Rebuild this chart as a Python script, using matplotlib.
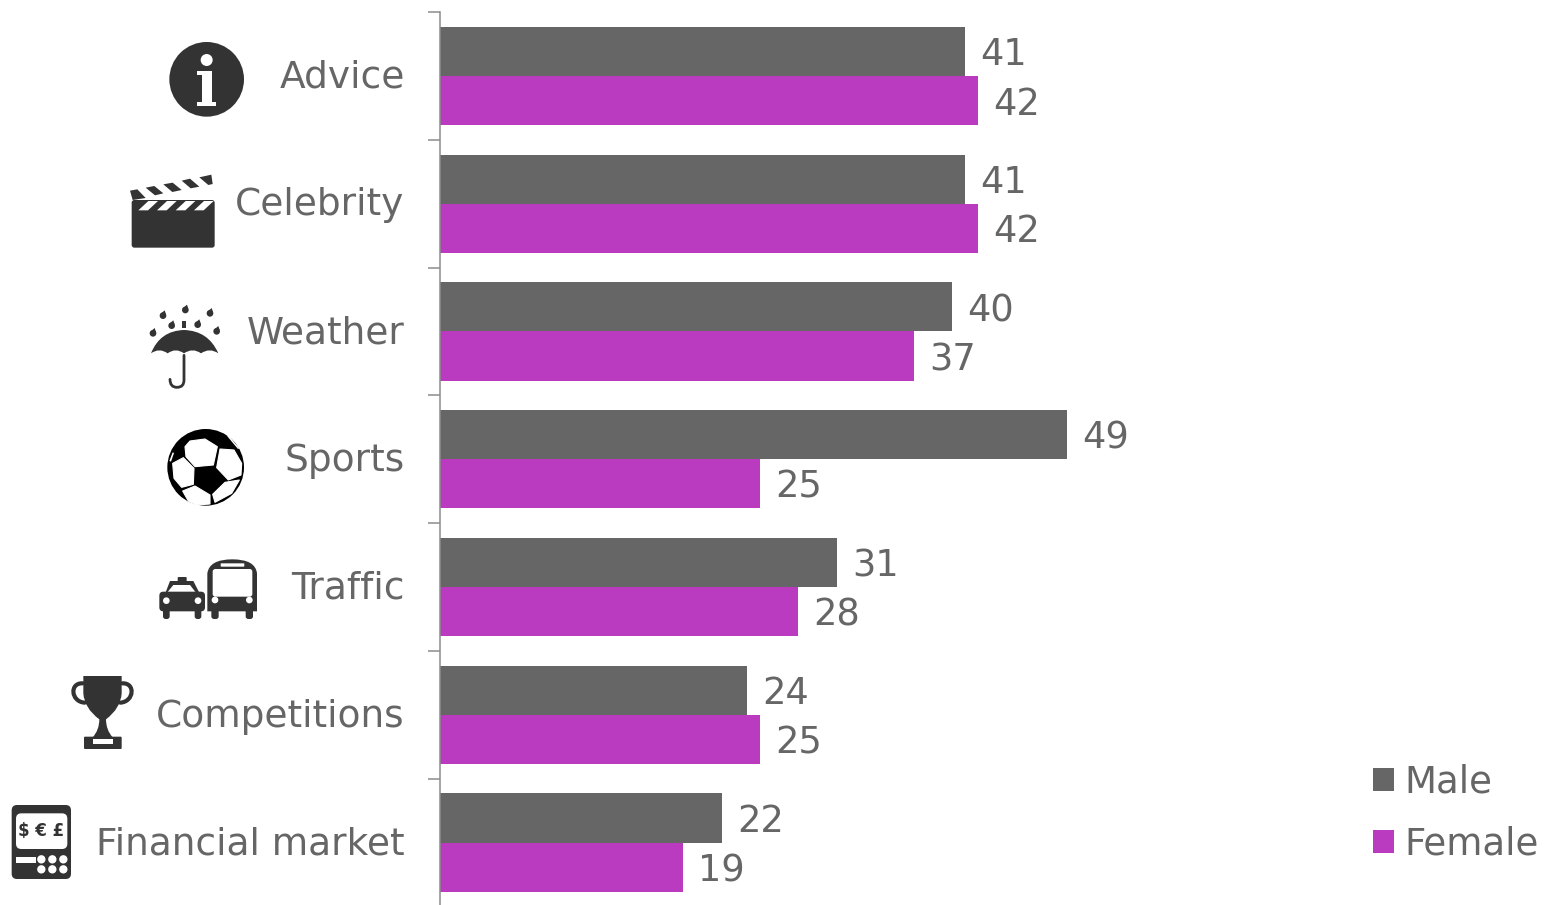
import matplotlib
matplotlib.use('Agg')
import matplotlib.pyplot as plt
from matplotlib.patches import Circle, FancyBboxPatch, PathPatch, Polygon, Rectangle
from matplotlib.path import Path
from matplotlib.transforms import ScaledTranslation

categories = ['Advice', 'Celebrity', 'Weather', 'Sports', 'Traffic', 'Competitions', 'Financial market']
male = [41, 41, 40, 49, 31, 24, 22]
female = [42, 42, 37, 25, 28, 25, 19]

GREY = '#666666'
PURPLE = '#BA3BBF'
AXIS = '#8C8C8C'
DARK = '#333333'

plt.rcParams['font.family'] = ['DejaVu Sans']

W, H = 1544, 905
fig = plt.figure(figsize=(W / 100, H / 100), dpi=100)

# main axes, the category band runs just past the bottom of the figure
left, top, bottom = 440, 12, 906.5
ax = fig.add_axes([left / W, (H - bottom) / H, (W - left) / W, (bottom - top) / H])
ax.set_xlim(0, (W - left) / 12.8)
ax.set_ylim(len(categories), 0)

bar_h = 0.3846
ypos = [i + 0.5 for i in range(len(categories))]
bars_m = ax.barh([y - bar_h / 2 for y in ypos], male, height=bar_h, color=GREY, label='Male')
bars_f = ax.barh([y + bar_h / 2 for y in ypos], female, height=bar_h, color=PURPLE, label='Female')

for bars, vals in ((bars_m, male), (bars_f, female)):
    for b, v in zip(bars, vals):
        ax.annotate(str(v), (v, b.get_y() + b.get_height() / 2), xytext=(11, -2.6),
                    textcoords='offset points', va='center', ha='left', fontsize=26.5, color=GREY)

for s in ('top', 'right', 'bottom'):
    ax.spines[s].set_visible(False)
ax.spines['left'].set_color(AXIS)
ax.spines['left'].set_linewidth(1.1)
ax.set_xticks([])
ax.set_yticks(range(len(categories) + 1))
ax.set_yticklabels([])
ax.tick_params(axis='y', which='major', length=9, width=1.1, color=AXIS)
ax.set_yticks(ypos, minor=True)
ax.set_yticklabels(categories, minor=True, fontsize=27, color=GREY)
ax.tick_params(axis='y', which='minor', length=0, pad=25.5)
# nudge the category names up a little
nudge = ScaledTranslation(0, 2.2 / 100, fig.dpi_scale_trans)
for lab in ax.get_yticklabels(minor=True):
    lab.set_transform(lab.get_transform() + nudge)

ax.legend(loc='lower left', bbox_to_anchor=(1373 / W, 42.5 / H), bbox_transform=fig.transFigure,
          frameon=False, fontsize=26.7, labelcolor=GREY, handlelength=0.57, handleheight=0.57,
          handletextpad=0.27, labelspacing=0.68, borderpad=0, borderaxespad=0)

# overlay for the pictograms, one unit is a third of a pixel
ic = fig.add_axes([0, 0, 1, 1])
ic.set_xlim(0, W * 3)
ic.set_ylim(H * 3, 0)
ic.axis('off')
ic.patch.set_alpha(0)


def poly(pts, color=DARK, dx=0, dy=0, edge=0):
    ic.add_patch(Polygon([(x + dx, y + dy) for x, y in pts], closed=True, fc=color,
                         ec=color if edge else 'none', lw=edge, joinstyle='round'))


def disc(x, y, r, color=DARK, dy=0):
    ic.add_patch(Circle((x, y + dy), r, fc=color, ec='none'))


def round_box(x0, y0, x1, y1, r, color=DARK, dy=0):
    ic.add_patch(FancyBboxPatch((x0 + r, y0 + r + dy), x1 - x0 - 2 * r, y1 - y0 - 2 * r,
                                boxstyle='round,pad=%f,rounding_size=%f' % (r, r), fc=color, ec='none'))


def curve(verts, codes, fc=DARK, ec='none', lw=0, dy=0):
    p = Path([(x, y + dy) for x, y in verts], codes)
    ic.add_patch(PathPatch(p, fc=fc, ec=ec, lw=lw, capstyle='round'))


M, L, C, C4 = Path.MOVETO, Path.LINETO, Path.CURVE3, Path.CURVE4

# info sign
disc(620, 238, 112)
disc(620, 180, 18, 'white')
poly([(592, 212), (636, 212), (636, 306), (649, 306), (649, 317), (591, 317), (591, 306),
      (606, 306), (606, 224), (592, 224)], 'white')

# clapperboard
round_box(395, 600, 644, 743, 8)
for x in (415, 471, 527, 582):
    poly([(x, 631), (x + 29, 631), (x + 59, 603), (x + 30, 603)], 'white')
poly([(390, 572), (412, 568), (437, 594), (398, 600)])
poly([(437, 563), (463, 558), (490, 580), (465, 586)])
poly([(490, 553), (518, 548), (545, 570), (517, 576)])
poly([(545, 542), (570, 536), (598, 560), (572, 565)])
poly([(598, 532), (634, 524), (638, 552), (625, 555)])

# umbrella and rain
curve([(453, 1060), (480, 992), (552, 990), (625, 992), (655, 1060), (629, 1042), (603, 1060),
       (578, 1042), (552, 1060), (527, 1042), (503, 1060), (478, 1042), (453, 1060)],
      [M, C, C, C, C, C, C, C, C, C, C, C, C])
curve([(552, 1066), (552, 1140), (552, 1162), (531, 1162), (510, 1162), (510, 1138)],
      [M, L, C, C, C, C], fc='none', ec=DARK, lw=2.0)
for x, y in [(556, 930), (489, 947), (630, 940), (515, 977), (593, 974), (459, 1000), (650, 994)]:
    disc(x, y, 10)
    poly([(x - 9, y - 4), (x + 9, y - 4), (x + 5, y - 16)])
poly([(546, 963), (558, 963), (558, 984), (546, 984)])

# football, a black disc with the white panels laid on top
B = 1200
disc(617, 202, 115, 'black', dy=B)
for patch in ([(75, 65), (90, 48), (135, 42), (172, 65), (160, 120), (105, 125), (78, 95)],
              [(38, 115), (70, 98), (102, 130), (100, 178), (65, 187), (42, 160)],
              [(180, 72), (222, 75), (245, 115), (243, 150), (205, 165), (170, 128)],
              [(68, 198), (105, 183), (150, 210), (150, 237), (110, 240), (85, 228)],
              [(195, 172), (238, 165), (215, 205), (165, 232), (158, 208)]):
    poly(patch, 'white', dx=480, dy=1275, edge=0.8)
poly([(28, 108), (38, 82), (42, 84), (33, 110)], 'white', dx=480, dy=1275)
poly([(205, 30), (238, 70), (234, 72), (202, 34)], 'white', dx=480, dy=1275)

# taxi
poly([(495, 582), (510, 543), (580, 543), (600, 582)], dy=B)
poly([(502, 577), (520, 555), (570, 555), (587, 577)], 'white', dy=B)
round_box(533, 531, 560, 548, 3, dy=B)
round_box(478, 575, 615, 634, 12, dy=B)
for x in (499, 594):
    round_box(x - 10, 620, x + 10, 657, 8, dy=B)
    disc(x, 602, 10, 'white', dy=B)

# bus
curve([(622, 634), (622, 520), (628, 478), (697, 478), (766, 478), (771, 520), (771, 634)],
      [M, L, C, C, C, C, L], dy=B)
round_box(638, 507, 757, 590, 8, 'white', dy=B)
round_box(662, 490, 733, 500, 2, 'white', dy=B)
for x in (645, 748):
    round_box(x - 11, 620, x + 11, 657, 8, dy=B)
    disc(x, 600, 10, 'white', dy=B)

# trophy
curve([(250, 828), (365, 828), (365, 880), (362, 925), (318, 958), (318, 990), (338, 1012),
       (278, 1012), (298, 990), (298, 958), (253, 925), (250, 880), (250, 828)],
      [M, L, L, C, C, C, C, L, C, C, C, C, L], dy=B)
curve([(248, 850), (208, 848), (212, 905), (254, 908)], [M, C4, C4, C4], fc='none', ec=DARK, lw=3.0, dy=B)
curve([(367, 850), (407, 848), (403, 905), (361, 908)], [M, C4, C4, C4], fc='none', ec=DARK, lw=3.0, dy=B)
round_box(252, 1010, 365, 1047, 3, dy=B)
ic.add_patch(Rectangle((278, 1017 + B), 60, 16, fc='white', ec='none'))

# calculator with currency keys
round_box(35, 1215, 213, 1437, 16, dy=B)
round_box(48, 1240, 202, 1347, 16, 'white', dy=B)
ic.text(124, 1294 + B, '$ € £', ha='center', va='center', fontsize=12, fontweight='bold', color=DARK)
ic.add_patch(Rectangle((48, 1372 + B), 59, 16, fc='white', ec='none'))
for y in (1378, 1408):
    for x in (124, 157, 190):
        disc(x, y, 12.5, 'white', dy=B)

fig.savefig('out.png', dpi=100)
